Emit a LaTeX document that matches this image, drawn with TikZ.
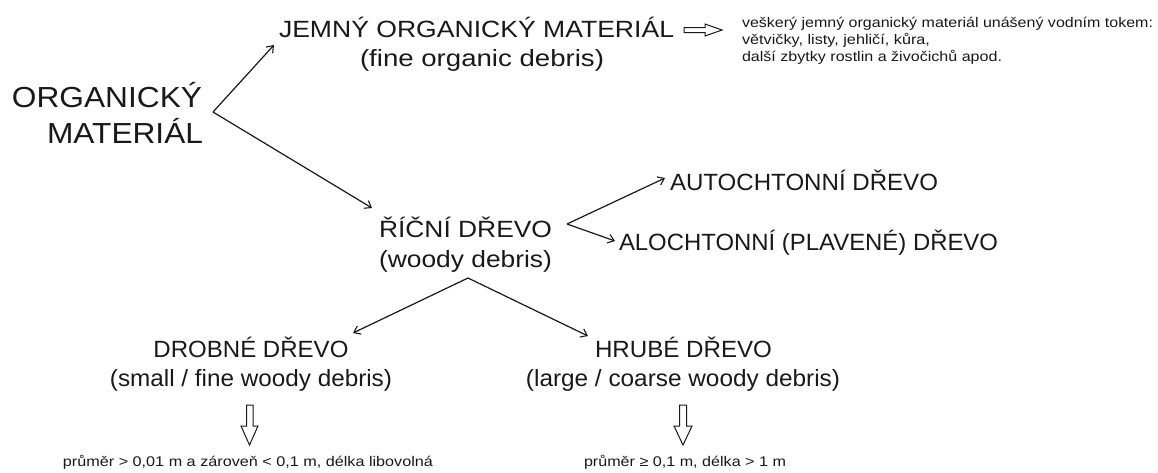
\documentclass[tikz,border=0pt]{standalone}
\usepackage{graphicx}
\usepackage{fontspec}
\setmainfont{Liberation Sans}
\usetikzlibrary{arrows.meta}
\newcommand{\fitw}[2]{\resizebox{#1pt}{\height}{#2}}
\tikzset{
  txt/.style={inner sep=0pt, outer sep=0pt, text=black!90},
  big/.style={txt, font=\fontsize{29}{29}\selectfont},
  mid/.style={txt, font=\fontsize{23.5}{23.5}\selectfont},
  small/.style={txt, font=\fontsize{14}{14}\selectfont},
  conn/.style={line width=1.2pt, black!90, -{Straight Barb[length=6pt,width=9pt,line width=1.1pt]}},
  hollow/.style={line width=1pt, black!90, fill=white, line join=miter},
}
\begin{document}
\begin{tikzpicture}[x=1pt,y=-1pt]
\useasboundingbox (0,0) rectangle (1158,472);

% root
\node[big, anchor=base east] (org1) at (202,107) {\fitw{190}{ORGANICKÝ}};
\node[big, anchor=base east] (org2) at (203,143) {\fitw{156}{MATERIÁL}};
\coordinate (j1) at (213,112);

% fine organic debris
\node[mid, anchor=base west] (jem1) at (279,37) {\fitw{395}{JEMNÝ ORGANICKÝ MATERIÁL}};
\node[mid, anchor=base] (jem2) at (482,66) {\fitw{244}{(fine organic debris)}};
\coordinate (t1) at (274,45);

% description of fine debris
\node[small, anchor=base west] (d1) at (742,27) {\fitw{411}{veškerý jemný organický materiál unášený vodním tokem:}};
\node[small, anchor=base west] (d2) at (742,44) {\fitw{188}{větvičky, listy, jehličí, kůra,}};
\node[small, anchor=base west] (d3) at (742,61) {\fitw{260}{další zbytky rostlin a živočichů apod.}};

% river wood
\node[mid, anchor=base west] (ric1) at (379,237) {\fitw{173}{ŘÍČNÍ DŘEVO}};
\node[mid, anchor=base west] (ric2) at (379,267) {\fitw{173}{(woody debris)}};
\coordinate (t2) at (372,208);
\coordinate (j2) at (567,224);
\coordinate (j3) at (468,278);

\node[mid, anchor=base west] (auto) at (670,190) {\fitw{268}{AUTOCHTONNÍ DŘEVO}};
\node[mid, anchor=base west] (alo) at (619,250) {\fitw{379}{ALOCHTONNÍ (PLAVENÉ) DŘEVO}};
\coordinate (t3) at (665,178);
\coordinate (t4) at (615,241);

% small / large wood
\node[mid, anchor=base] (dro1) at (251,357) {\fitw{195}{DROBNÉ DŘEVO}};
\node[mid, anchor=base] (dro2) at (251,386) {\fitw{282}{(small / fine woody debris)}};
\node[mid, anchor=base] (hru1) at (683.5,357) {\fitw{177}{HRUBÉ DŘEVO}};
\node[mid, anchor=base] (hru2) at (683,386) {\fitw{314}{(large / coarse woody debris)}};
\coordinate (t5) at (353,333);
\coordinate (t6) at (588,336);

\node[small, anchor=base] (p1) at (248,466) {\fitw{370}{průměr > 0,01 m a zároveň < 0,1 m, délka libovolná}};
\node[small, anchor=base] (p2) at (685,466) {\fitw{202}{průměr ≥ 0,1 m, délka > 1 m}};

% connectors
\draw[conn] (j1) -- (t1);
\draw[conn] (j1) -- (t2);
\draw[conn] (j2) -- (t3);
\draw[conn] (j2) -- (t4);
\draw[conn] (j3) -- (t5);
\draw[conn] (j3) -- (t6);

% hollow arrows
\draw[hollow] (684,27.5) -- (705,27.5) -- (705,24) -- (722,30) -- (705,36) -- (705,32.5) -- (684,32.5) -- cycle;
\draw[hollow] (246.5,405) -- (253,405) -- (253,426) -- (258,426) -- (249.5,445) -- (241,426) -- (246.5,426) -- cycle;
\draw[hollow] (679.5,405) -- (686.5,405) -- (686.5,426) -- (692,426) -- (683,445) -- (674,426) -- (679.5,426) -- cycle;
\end{tikzpicture}
\end{document}
